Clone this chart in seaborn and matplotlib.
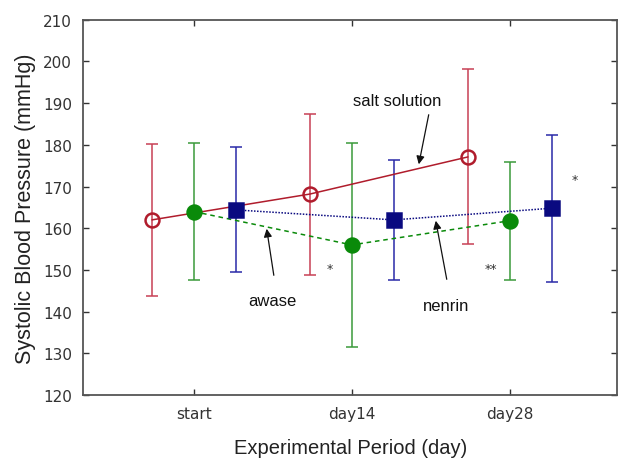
import numpy as np
import pandas as pd
import seaborn as sns
import matplotlib.pyplot as plt

# systolic blood pressure per group, mean and SD
periods = ['start', 'day14', 'day28']
salt_mean = [162.0, 168.2, 177.1]
salt_sd = [18.2, 19.3, 21.0]
awase_mean = [164.0, 156.0, 161.8]
awase_sd = [16.5, 24.4, 14.2]
nenrin_mean = [164.4, 162.0, 164.8]
nenrin_sd = [15.0, 14.4, 17.6]

sns.set_style('ticks')
plt.rcParams['font.family'] = ['DejaVu Sans']

fig, ax = plt.subplots(figsize=(6.21, 4.6), dpi=100)
fig.subplots_adjust(left=0.134, right=0.994, top=0.955, bottom=0.139)

pos = np.arange(1, 4)
groups = [
    ('salt solution', salt_mean, salt_sd, -0.265, '#b01c2c', '#c84055', 'o', '-', 'none'),
    ('awase', awase_mean, awase_sd, 0.0, '#0a8a0a', '#3a9a3a', 'o', (0, (3, 2.5)), '#0a8a0a'),
    ('nenrin', nenrin_mean, nenrin_sd, 0.265, '#0a0a80', '#2a2aa8', 's', (0, (1, 1)), '#0a0a80'),
]

for name, m, sd, off, col, ecol, mk, ls, fc in groups:
    x = pos + off
    ax.errorbar(x, m, yerr=sd, fmt='none', ecolor=ecol, elinewidth=1.1,
                capsize=4, capthick=1.1, zorder=2)
    df = pd.DataFrame({'x': x, 'y': m})
    sns.lineplot(data=df, x='x', y='y', ax=ax, color=col, linestyle=ls,
                 linewidth=1.1, zorder=3)
    ax.plot(x, m, linestyle='none', marker=mk, markersize=10 if mk == 'o' else 10.5,
            markerfacecolor=fc, markeredgecolor=col, markeredgewidth=1.8, zorder=4)

ax.set_xlim(0.30, 3.68)
ax.set_ylim(120, 210)
ax.set_yticks(np.arange(120, 211, 10))
ax.set_xticks(pos)
ax.set_xticklabels(periods)
ax.tick_params(direction='in', length=4, width=1, colors='#333333', labelsize=11,
               top=True, right=True, pad=8)
for s in ax.spines.values():
    s.set_color('#555555')
    s.set_linewidth(1.3)

lab = dict(color='#222222', family=['Liberation Sans', 'DejaVu Sans'])
ax.set_xlabel('Experimental Period (day)', fontsize=14.5, labelpad=12, **lab)
ax.set_ylabel('Systolic Blood Pressure (mmHg)', fontsize=15.5, labelpad=5, **lab)

# annotations
def px(xp, yp):
    # convert reference pixel to data coords via axes bounds
    xd = 0.30 + (xp - 83) / (617 - 83) * (3.68 - 0.30)
    yd = 210 - (yp - 20.7) / (396 - 20.7) * 90
    return xd, yd

txt = dict(ha='center', va='center', fontsize=12, color='#111111',
           family=['Liberation Sans', 'DejaVu Sans'])
arrow = dict(arrowstyle='-|>', color='#111111', lw=0.9, mutation_scale=12)
ax.annotate('', xy=px(418, 168), xytext=px(429, 113), arrowprops=arrow)
ax.annotate('', xy=px(266, 227), xytext=px(274, 279), arrowprops=arrow)
ax.annotate('', xy=px(435, 219), xytext=px(447, 283), arrowprops=arrow)
ax.text(*px(397, 101), 'salt solution', **txt)
ax.text(*px(272, 301), 'awase', **txt)
ax.text(*px(446, 306), 'nenrin', **txt)
ax.text(*px(330, 269), '*', ha='center', va='center', fontsize=9, color='#333333')
ax.text(*px(491, 269), '**', ha='center', va='center', fontsize=9, color='#333333')
ax.text(*px(575, 180), '*', ha='center', va='center', fontsize=9, color='#333333')

fig.savefig('out.png', dpi=100)
